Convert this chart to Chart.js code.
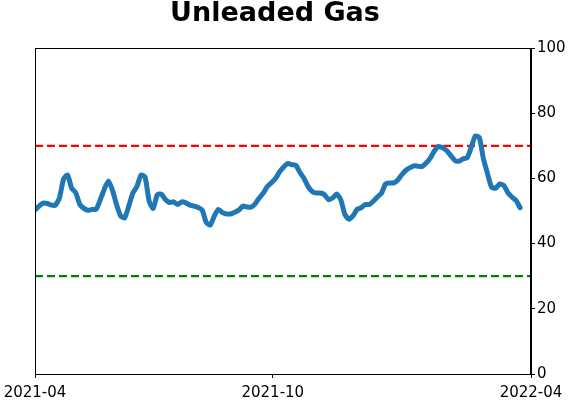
<!DOCTYPE html>
<html>
<head>
<meta charset="utf-8">
<script src="https://cdn.jsdelivr.net/npm/chart.js@4"></script>
<style>
  html, body { margin: 0; padding: 0; background: #fff; }
  #wrap { width: 571px; height: 402px; }
</style>
</head>
<body>
<div id="wrap"><canvas id="gasChart"></canvas></div>
<script>
// days since 2021-04-01, one reading every 3 days
const gasValues = [
  50.3, 51.5, 52.4, 52.3, 51.8, 51.8, 54, 59.8, 61, 57,
  55.6, 52, 50.8, 50.2, 50.5, 50.5, 53.4, 56.7, 59.2, 56.4,
  52, 48.5, 47.9, 51.5, 55.5, 57.5, 61, 60.4, 53, 50.8,
  55, 55.2, 53.5, 52.6, 52.8, 52, 52.8, 52.5, 51.8, 51.5,
  51.1, 50.3, 46.5, 45.7, 48.5, 50.5, 49.5, 49.1, 49.1, 49.6,
  50.3, 51.5, 51.2, 51.2, 52.2, 54, 55.5, 57.5, 58.7, 60,
  62, 63.5, 64.6, 64.2, 64, 61.8, 60, 57.5, 56, 55.5,
  55.5, 55, 53.5, 54, 55.2, 53.5, 49, 47.5, 48.5, 50.5,
  51, 52, 52, 53, 54.3, 55.5, 58.3, 58.6, 58.6, 59.5,
  61.2, 62.5, 63.3, 63.9, 63.7, 63.7, 64.8, 66.3, 68.5, 69.8,
  69.4, 68.5, 67, 65.5, 65.3, 66, 66.3, 69.5, 73, 72.5,
  66, 61.5, 57.3, 57, 58.3, 57.8, 55.6, 54.3, 53.2, 51
];
const stepDays = 3;
const tickDays = [0, 175, 365];
const tickLabels = ['2021-04', '2021-10', '2022-04'];
const upperLevel = 70;
const lowerLevel = 30;
const yTicks = [0, 20, 40, 60, 80, 100];

const gasPoints = gasValues.map((v, i) => ({ x: i * stepDays, y: v }));
const xMin = tickDays[0], xMax = tickDays[tickDays.length - 1];

const frame = {
  id: 'frame',
  afterDatasetsDraw(chart) {
    const a = chart.chartArea, c = chart.ctx;
    c.save();
    c.strokeStyle = '#000';
    c.lineWidth = 1;
    c.strokeRect(a.left + 0.5, a.top + 0.5, a.right - a.left - 1, a.bottom - a.top);
    c.restore();
  }
};

Chart.defaults.font.family = '"DejaVu Sans", sans-serif';
Chart.defaults.color = '#000';

new Chart(document.getElementById('gasChart'), {
  type: 'line',
  data: {
    datasets: [
      {
        data: gasPoints,
        borderColor: '#1f77b4',
        borderWidth: 5,
        pointRadius: 0,
        tension: 0.2,
        borderJoinStyle: 'round',
        borderCapStyle: 'round'
      },
      {
        data: [{ x: xMin, y: upperLevel }, { x: xMax, y: upperLevel }],
        borderColor: '#ff0000',
        borderWidth: 2.2,
        borderDash: [8, 4],
        pointRadius: 0
      },
      {
        data: [{ x: xMin, y: lowerLevel }, { x: xMax, y: lowerLevel }],
        borderColor: '#008000',
        borderWidth: 2.2,
        borderDash: [8, 4],
        pointRadius: 0
      }
    ]
  },
  options: {
    responsive: true,
    maintainAspectRatio: false,
    animation: false,
    layout: { padding: { left: -21, right: 0, top: 0, bottom: 0 } },
    plugins: {
      legend: { display: false },
      tooltip: { enabled: false },
      title: {
        display: true,
        text: 'Unleaded Gas',
        font: { size: 27, weight: 'bold', lineHeight: 1 },
        padding: { top: 0, bottom: 21 }
      }
    },
    scales: {
      x: {
        type: 'linear',
        min: xMin,
        max: xMax,
        afterBuildTicks: s => { s.ticks = tickDays.map(v => ({ value: v })); },
        afterFit: s => { s.height = 28; s.paddingLeft = 35; s.paddingRight = 0; },
        grid: { display: true, drawOnChartArea: false, tickLength: 4, color: '#000' },
        border: { display: true, color: '#000' },
        ticks: {
          font: { size: 15 },
          padding: 6,
          maxRotation: 0,
          autoSkip: false,
          callback: v => tickLabels[tickDays.indexOf(v)]
        }
      },
      y: {
        position: 'right',
        min: 0,
        max: 100,
        afterBuildTicks: s => { s.ticks = yTicks.map(v => ({ value: v })); },
        afterFit: s => { s.width = 40; },
        grid: { display: true, drawOnChartArea: false, tickLength: 4, color: '#000' },
        border: { display: true, color: '#000' },
        ticks: { font: { size: 15 }, padding: 2 }
      }
    }
  },
  plugins: [frame]
});
</script>
</body>
</html>
